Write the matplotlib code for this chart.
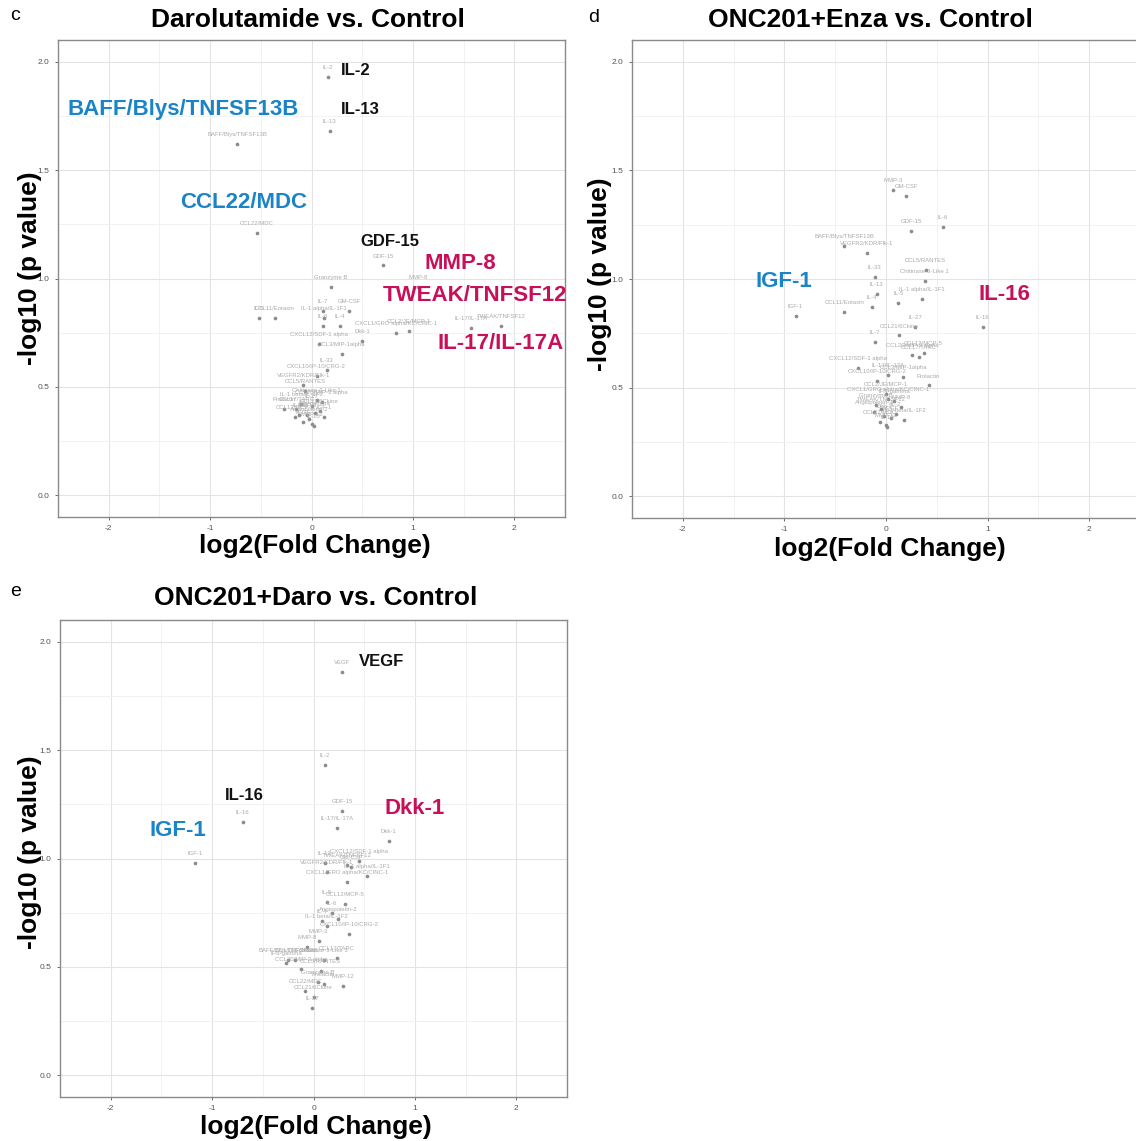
import numpy as np
import matplotlib.pyplot as plt

plt.rcParams['font.family'] = ['Liberation Sans', 'DejaVu Sans']
plt.rcParams['axes.unicode_minus'] = False

# ---- data: (analyte, log2 fold change, -log10 p) ----
daro_names = ['IL-2', 'IL-13', 'BAFF/Blys/TNFSF13B', 'CCL22/MDC', 'GDF-15', 'MMP-8',
              'Granzyme B', 'TWEAK/TNFSF12', 'IL-17/IL-17A', 'GM-CSF', 'IL-7',
              'IL-1 alpha/IL-1F1', 'CCL11/Eotaxin', 'IL-5', 'CXCL1/GRO alpha/KC/CINC-1',
              'CCL2/JE/MCP-1', 'IL-6', 'IL-4', 'Dkk-1', 'CXCL12/SDF-1 alpha',
              'CCL3/MIP-1alpha', 'IL-33', 'CXCL10/IP-10/CRG-2', 'VEGFR2/KDR/Flk-1',
              'CCL5/RANTES', 'Chitinase-3-Like 1', 'CCL20/MIP-3 alpha', 'Prolactin',
              'CCL17/TARC', 'IL-1 beta/IL-1F2', 'IL-27', 'IFN-gamma', 'MMP-3',
              'CCL21/6Ckine', 'IL-16', 'IGF-1', 'VEGF', 'Angiopoietin-2', 'MMP-12',
              'IL-10', 'CCL12/MCP-5']
daro_fc = [0.16, 0.18, -0.73, -0.54, 0.71, 1.05, 0.19, 1.87, 1.57, 0.37, 0.11,
           0.12, -0.36, -0.52, 0.83, 0.96, 0.11, 0.28, 0.50, 0.07, 0.30, 0.15,
           0.05, -0.08, -0.06, 0.05, 0.10, -0.27, -0.15, -0.10, 0.00, 0.03,
           -0.04, 0.08, -0.12, 0.12, -0.08, -0.02, 0.00, 0.02, -0.16]
daro_p = [1.93, 1.68, 1.62, 1.21, 1.06, 0.96, 0.96, 0.78, 0.77, 0.85, 0.85,
          0.82, 0.82, 0.82, 0.75, 0.76, 0.78, 0.78, 0.71, 0.70, 0.65, 0.58,
          0.55, 0.51, 0.48, 0.44, 0.43, 0.40, 0.40, 0.42, 0.41, 0.38, 0.37,
          0.39, 0.37, 0.36, 0.34, 0.35, 0.33, 0.32, 0.36]

enza_names = ['MMP-3', 'GM-CSF', 'GDF-15', 'IL-6', 'BAFF/Blys/TNFSF13B',
              'VEGFR2/KDR/Flk-1', 'CCL5/RANTES', 'IL-33', 'Chitinase-3-Like 1',
              'IL-13', 'IL-1 alpha/IL-1F1', 'IL-5', 'IL-4', 'CCL11/Eotaxin', 'IGF-1',
              'IL-16', 'IL-27', 'CCL21/6Ckine', 'IL-7', 'CCL20/MIP-3 alpha',
              'CCL17/TARC', 'CCL12/MCP-5', 'CXCL12/SDF-1 alpha', 'IL-17/IL-17A',
              'CCL3/MIP-1alpha', 'CXCL10/IP-10/CRG-2', 'Prolactin', 'CCL2/JE/MCP-1',
              'CXCL1/GRO alpha/KC/CINC-1', 'Granzyme B', 'IFN-gamma', 'MMP-8',
              'TWEAK/TNFSF12', 'IL-2', 'Dkk-1', 'VEGF', 'MMP-12', 'Angiopoietin-2',
              'IL-1 beta/IL-1F2', 'CCL22/MDC', 'IL-10']
enza_fc = [0.07, 0.20, 0.25, 0.56, -0.41, -0.19, 0.39, -0.11, 0.38, -0.09, 0.35,
           0.12, -0.14, -0.41, -0.89, 0.95, 0.29, 0.13, -0.11, 0.26, 0.32, 0.37,
           -0.28, 0.02, 0.17, -0.09, 0.42, 0.00, 0.02, -0.10, 0.08, 0.15, -0.05,
           0.10, -0.02, 0.05, 0.00, -0.12, 0.18, -0.06, 0.01]
enza_p = [1.41, 1.38, 1.22, 1.24, 1.15, 1.12, 1.04, 1.01, 0.99, 0.93, 0.91,
          0.89, 0.87, 0.85, 0.83, 0.78, 0.78, 0.74, 0.71, 0.65, 0.64, 0.66,
          0.59, 0.56, 0.55, 0.53, 0.51, 0.47, 0.45, 0.42, 0.44, 0.41, 0.40,
          0.38, 0.37, 0.36, 0.33, 0.39, 0.35, 0.34, 0.32]

dapl_names = ['VEGF', 'IL-2', 'GDF-15', 'IL-17/IL-17A', 'IL-16', 'Dkk-1', 'IGF-1',
              'CXCL12/SDF-1 alpha', 'GM-CSF', 'IL-13', 'VEGFR2/KDR/Flk-1',
              'TWEAK/TNFSF12', 'IL-1 alpha/IL-1F1', 'CXCL1/GRO alpha/KC/CINC-1',
              'IL-5', 'CCL12/MCP-5', 'IL-6', 'Angiopoietin-2', 'IL-4',
              'CXCL10/IP-10/CRG-2', 'IL-1 beta/IL-1F2', 'MMP-3', 'MMP-8',
              'BAFF/Blys/TNFSF13B', 'IFN-gamma', 'CCL17/TARC', 'CCL11/Eotaxin',
              'Chitinase-3-Like 1', 'CCL20/MIP-3 alpha', 'CCL5/RANTES', 'MMP-12',
              'CCL22/MDC', 'Granzyme B', 'Prolactin', 'CCL21/6Ckine', 'IL-27']
dapl_fc = [0.28, 0.11, 0.28, 0.23, -0.70, 0.74, -1.17, 0.45, 0.37, 0.11, 0.13,
           0.33, 0.53, 0.33, 0.13, 0.31, 0.18, 0.24, 0.08, 0.35, 0.13, 0.05,
           -0.06, -0.25, -0.27, 0.23, -0.18, 0.10, -0.12, 0.07, 0.29, -0.08,
           0.04, 0.10, 0.00, -0.01]
dapl_p = [1.86, 1.43, 1.22, 1.14, 1.17, 1.08, 0.98, 0.99, 0.96, 0.98, 0.94,
          0.97, 0.92, 0.89, 0.80, 0.79, 0.75, 0.72, 0.71, 0.65, 0.69, 0.62,
          0.59, 0.53, 0.52, 0.54, 0.53, 0.53, 0.49, 0.48, 0.41, 0.39, 0.43,
          0.42, 0.36, 0.31]

BLUE = '#1b84c6'
MAGENTA = '#c8105a'
BLACK = '#111111'

# highlighted analytes: (name, colour, label x, label y)
daro_hi = [('IL-2', BLACK, 0.44, 1.96), ('IL-13', BLACK, 0.48, 1.78),
           ('BAFF/Blys/TNFSF13B', BLUE, -1.27, 1.78), ('CCL22/MDC', BLUE, -0.67, 1.35),
           ('GDF-15', BLACK, 0.77, 1.17), ('MMP-8', MAGENTA, 1.47, 1.07),
           ('TWEAK/TNFSF12', MAGENTA, 1.61, 0.92), ('IL-17/IL-17A', MAGENTA, 1.87, 0.70)]
enza_hi = [('IGF-1', BLUE, -1.01, 0.99), ('IL-16', MAGENTA, 1.17, 0.93)]
dapl_hi = [('VEGF', BLACK, 0.67, 1.91), ('IL-16', BLACK, -0.68, 1.29),
           ('IGF-1', BLUE, -1.34, 1.13), ('Dkk-1', MAGENTA, 1.00, 1.23)]


def volcano(ax, names, fc, p, hi):
    ax.set_xlim(-2.42, 2.42)
    ax.set_ylim(-0.1, 2.1)
    ax.set_xticks([-2, -1, 0, 1, 2])
    ax.set_yticks([0.0, 0.5, 1.0, 1.5, 2.0])
    ax.set_yticklabels(['0.0', '0.5', '1.0', '1.5', '2.0'])
    ax.set_xticks(np.arange(-2.5, 2.6, 0.5), minor=True)
    ax.set_yticks(np.arange(0.25, 2.0, 0.5), minor=True)
    ax.grid(which='major', color='#e3e3e3', lw=0.8)
    ax.grid(which='minor', color='#f0f0f0', lw=0.6)
    ax.set_axisbelow(True)
    ax.tick_params(which='major', labelsize=6, colors='#555555', length=2.5, width=0.6)
    ax.tick_params(which='minor', length=0)
    for s in ax.spines.values():
        s.set_color('#8a8a8a')
        s.set_linewidth(1.0)

    ax.scatter(fc, p, s=7, color='#8c8c8c', lw=0, zorder=3)
    for n, x, y in zip(names, fc, p):
        ax.annotate(n, (x, y), xytext=(0, 5), textcoords='offset points',
                    ha='center', va='bottom', fontsize=4.3, color='#ababab', zorder=4)
    for n, c, tx, ty in hi:
        ax.text(tx, ty, n, color=c, fontsize=16 if c != BLACK else 12,
                fontweight='bold', ha='center', va='center', zorder=5)


fig = plt.figure(figsize=(11.36, 11.41), dpi=100)
W, H = 1136, 1141


def add_panel(left, top, right, bottom):
    return fig.add_axes([left / W, 1 - bottom / H, (right - left) / W, (bottom - top) / H])


ax_c = add_panel(58, 40, 565, 517)
ax_d = add_panel(632, 40, 1140, 518)
ax_e = add_panel(60, 620, 567, 1097)

volcano(ax_c, daro_names, daro_fc, daro_p, daro_hi)
volcano(ax_d, enza_names, enza_fc, enza_p, enza_hi)
volcano(ax_e, dapl_names, dapl_fc, dapl_p, dapl_hi)


def ftext(x, y, s, **kw):
    fig.text(x / W, 1 - y / H, s, ha='center', va='center', **kw)


ftext(308, 20, 'Darolutamide vs. Control', fontsize=19, fontweight='bold')
ftext(870, 20, 'ONC201+Enza vs. Control', fontsize=19, fontweight='bold')
ftext(316, 598, 'ONC201+Daro vs. Control', fontsize=19, fontweight='bold')
ftext(315, 546, 'log2(Fold Change)', fontsize=19, fontweight='bold')
ftext(890, 549, 'log2(Fold Change)', fontsize=19, fontweight='bold')
ftext(316, 1127, 'log2(Fold Change)', fontsize=19, fontweight='bold')
ftext(30, 268, '-log10 (p value)', fontsize=19, fontweight='bold', rotation=90)
ftext(600, 274, '-log10 (p value)', fontsize=19, fontweight='bold', rotation=90)
ftext(30, 852, '-log10 (p value)', fontsize=19, fontweight='bold', rotation=90)
ftext(15, 16, 'c', fontsize=14)
ftext(594, 18, 'd', fontsize=14)
ftext(16, 592, 'e', fontsize=14)

fig.savefig('out.png', dpi=100)
